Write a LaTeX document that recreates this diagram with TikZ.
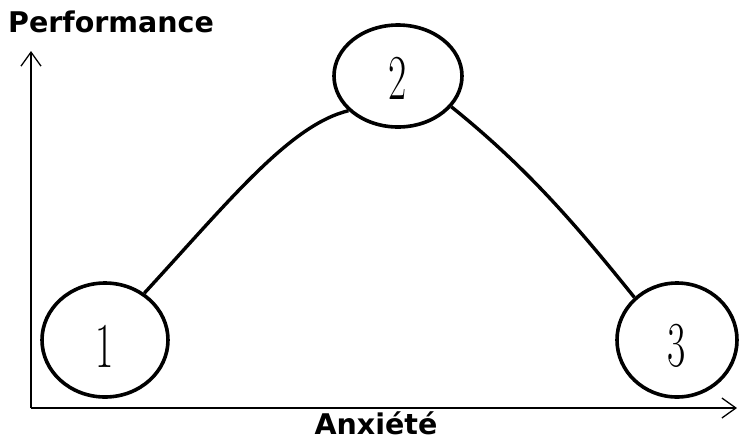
\documentclass[tikz,border=0pt]{standalone}
\usepackage{fontspec}
\setsansfont{DejaVu Sans}
\usetikzlibrary{shapes.geometric,arrows.meta}
\begin{document}
\begin{tikzpicture}[x=1pt,y=-1pt,
  stage/.style={draw,line width=3.6pt,ellipse,inner sep=0pt,fill=white},
  axis/.style={line width=1.3pt,-{Straight Barb[length=14pt,width=20pt,line width=1.3pt]}},
  curve/.style={line width=3.4pt},
  lbl/.style={font=\sffamily\bfseries\fontsize{28.5}{28.5}\selectfont,inner sep=0pt},
  num/.style={font=\fontsize{64}{64}\selectfont,inner sep=0pt,xscale=0.62}]
\useasboundingbox (0,0) rectangle (739,440);
\coordinate (o) at (31,408);
\coordinate (ytip) at (31,51);
\coordinate (xtip) at (737,408);
\draw[axis] (o) -- (ytip);
\draw[axis] (o) -- (xtip);
\node[stage,minimum width=126pt,minimum height=114pt] (e1) at (105,340) {};
\node[stage,minimum width=128pt,minimum height=102pt] (e2) at (398,76) {};
\node[stage,minimum width=120pt,minimum height=114pt] (e3) at (677,340) {};
\draw[curve] (e1.50) .. controls (230,200) and (290,125) .. (e2.215);
\draw[curve] (e2.-30) .. controls (530,170) and (580,230) .. (e3.135);
\node[num] (n1) at (105,346) {1};
\node[num] (n2) at (398,78) {2};
\node[num] (n3) at (677,346) {3};
\node[lbl,anchor=west] (perf) at (8,22) {Performance};
\node[lbl,anchor=base] (anx) at (376,434) {Anxiété};
\end{tikzpicture}
\end{document}
